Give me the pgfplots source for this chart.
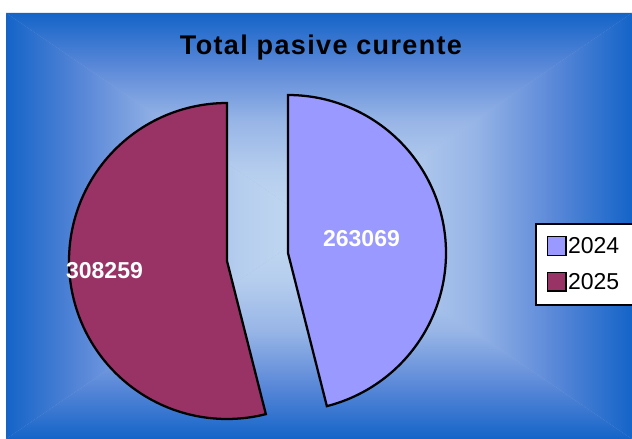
\documentclass[border=0pt]{standalone}
\usepackage{fontspec}
\setmainfont{Liberation Sans}
\newfontfamily\titlefont[LetterSpace=5]{Liberation Sans}
\usepackage{xfp}
\usepackage{pgfplots}
\pgfplotsset{compat=1.18}
\definecolor{c2024}{HTML}{9999FF}
\definecolor{c2025}{HTML}{993366}
\definecolor{bgEdge}{RGB}{20,100,200}
\definecolor{bgM3}{RGB}{90,136,216}
\definecolor{bgM2}{RGB}{150,180,230}
\definecolor{bgM1}{RGB}{182,206,238}
\definecolor{bgCenter}{RGB}{197,219,242}
\pgfdeclarehorizontalshading{bgH}{100bp}{color(0bp)=(bgEdge); color(25bp)=(bgEdge); color(31.25bp)=(bgM3); color(37.5bp)=(bgM2); color(43.75bp)=(bgM1); color(50bp)=(bgCenter); color(56.25bp)=(bgM1); color(62.5bp)=(bgM2); color(68.75bp)=(bgM3); color(75bp)=(bgEdge); color(100bp)=(bgEdge)}
\pgfdeclareverticalshading{bgV}{100bp}{color(0bp)=(bgEdge); color(25bp)=(bgEdge); color(31.25bp)=(bgM3); color(37.5bp)=(bgM2); color(43.75bp)=(bgM1); color(50bp)=(bgCenter); color(56.25bp)=(bgM1); color(62.5bp)=(bgM2); color(68.75bp)=(bgM3); color(75bp)=(bgEdge); color(100bp)=(bgEdge)}
% data
\def\valA{263069}% 2024
\def\valB{308259}% 2025
\edef\angA{\fpeval{360*\valA/(\valA+\valB)}}
\edef\splitAng{\fpeval{90-\angA}}
\begin{document}
\begin{tikzpicture}
\begin{scope}[x=0.75pt,y=0.75pt]
\fill[white] (0,0) rectangle (632,439);
\fill[bgM2] (6,0) rectangle (632,426);
\begin{scope}\clip (6,0) -- (6,426) -- (319,213) -- cycle;
\shade[shading=bgH] (6,0) rectangle (632,426);\end{scope}
\begin{scope}\clip (632,0) -- (632,426) -- (319,213) -- cycle;
\shade[shading=bgH] (6,0) rectangle (632,426);\end{scope}
\begin{scope}\clip (6,426) -- (632,426) -- (319,213) -- cycle;
\shade[shading=bgV] (6,0) rectangle (632,426);\end{scope}
\begin{scope}\clip (6,0) -- (632,0) -- (319,213) -- cycle;
\shade[shading=bgV] (6,0) rectangle (632,426);\end{scope}
\end{scope}
\begin{axis}[at={(0,0)}, anchor=south west, width=474pt, height=329.25pt,
  scale only axis, xmin=0, xmax=632, ymin=0, ymax=439, hide axis, clip=false,
  legend image code/.code={\draw[#1,draw=black,line width=1.1pt] (0pt,-6.5pt) rectangle (14pt,7.5pt);},
  legend style={at={(axis cs:535,216)}, anchor=north west, draw=black, line width=1.3pt,
    fill=white, font=\fontsize{17.25pt}{20pt}\selectfont, inner xsep=8pt, inner ysep=9pt,
    row sep=11pt, nodes={inner sep=1pt}, column sep=0pt},
  legend cell align=left]
\addplot[draw=black, line width=1.7pt, fill=c2024, domain=\splitAng:90, samples=120]
  ({288+158*cos(x)},{186+158*sin(x)}) -- (axis cs:288,186) -- cycle;
\addlegendentry{2024\rule{12pt}{0pt}}
\addplot[draw=black, line width=1.7pt, fill=c2025, domain=-270:\splitAng, samples=120]
  ({227+158*cos(x)},{178+158*sin(x)}) -- (axis cs:227,178) -- cycle;
\addlegendentry{2025\rule{12pt}{0pt}}
\node[anchor=base, font=\titlefont\bfseries\fontsize{20.25pt}{24pt}\selectfont] at (axis cs:321,384.7) {Total pasive curente};
\node[anchor=base, text=white, font=\bfseries\fontsize{17.25pt}{20pt}\selectfont] at (axis cs:361.5,192) {263069};
\node[anchor=base, text=white, font=\bfseries\fontsize{17.25pt}{20pt}\selectfont] at (axis cs:104.5,160.7) {308259};
\end{axis}
\pgfresetboundingbox
\path[use as bounding box] (0,0) rectangle (474pt,329.25pt);
\end{tikzpicture}
\end{document}
